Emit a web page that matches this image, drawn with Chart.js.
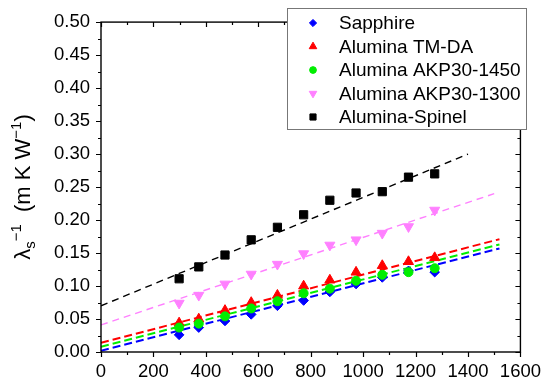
<!DOCTYPE html>
<html>
<head>
<meta charset="utf-8">
<script src="https://cdn.jsdelivr.net/npm/chart.js@4/dist/chart.umd.min.js"></script>
<style>
  html, body { margin: 0; padding: 0; background: #fff; }
</style>
</head>
<body>
<canvas id="chart" width="550" height="381"></canvas>
<script>
// Temperatura (K) y resistividad termica
const temps = [298, 373, 473, 573, 673, 773, 873, 973, 1073, 1173, 1273];
const sapphire = [0.026, 0.037, 0.047, 0.057, 0.070, 0.078, 0.091, 0.103, 0.113, 0.123, 0.121];
const tmda     = [0.044, 0.050, 0.063, 0.075, 0.086, 0.100, 0.109, 0.121, 0.131, 0.137, 0.143];
const akp1450  = [0.037, 0.043, 0.054, 0.066, 0.077, 0.089, 0.096, 0.108, 0.117, 0.121, 0.127];
const akp1300  = [0.074, 0.086, 0.103, 0.118, 0.133, 0.149, 0.162, 0.170, 0.180, 0.190, 0.215];
const spinel   = [0.111, 0.129, 0.147, 0.170, 0.189, 0.208, 0.230, 0.241, 0.243, 0.265, 0.270];

// Rectas de ajuste: extremos en x y en y
const fitX         = [0, 1520];
const fitSapphire  = [0.002, 0.157];
const fitTmda      = [0.014, 0.171];
const fitAkp1450   = [0.008, 0.163];
const fitAkp1300X  = [0, 1500];
const fitAkp1300   = [0.041, 0.240];
const fitSpinelX   = [0, 1400];
const fitSpinel    = [0.070, 0.300];

const xTicks = [0, 200, 400, 600, 800, 1000, 1200, 1400, 1600];
const yTicks = [0, 0.05, 0.10, 0.15, 0.20, 0.25, 0.30, 0.35, 0.40, 0.45, 0.50];

const FONT = "'Liberation Sans', Arial, sans-serif";

function pts(xs, ys) {
  return xs.map((x, i) => ({ x: x, y: ys[i] }));
}

function serie(label, ys, color, style, radius, rotation, order) {
  return {
    label: label,
    legend: true,
    data: pts(temps, ys),
    showLine: false,
    pointStyle: style,
    pointRadius: radius,
    pointRotation: rotation,
    pointBackgroundColor: color,
    pointBorderColor: color,
    pointBorderWidth: 1,
    backgroundColor: color,
    borderColor: color,
    order: order
  };
}

function ajuste(xs, ys, color, width, dash) {
  return {
    data: pts(xs, ys),
    showLine: true,
    borderColor: color,
    borderWidth: width,
    borderDash: dash,
    pointRadius: 0,
    fill: false,
    order: 10
  };
}

// marco con ticks menores y espejo arriba/derecha
const frameTicks = {
  id: 'frameTicks',
  afterDatasetsDraw(chart) {
    const ctx = chart.ctx;
    const a = chart.chartArea;
    const sx = chart.scales.x, sy = chart.scales.y;
    ctx.save();
    ctx.strokeStyle = '#000';
    ctx.lineWidth = 1.4;
    ctx.strokeRect(a.left, a.top, a.right - a.left, a.bottom - a.top);
    ctx.lineWidth = 1.2;
    const minors = v => v.slice(0, -1).map((t, i) => (t + v[i + 1]) / 2);
    const xs = [...xTicks.map(v => [v, 5]), ...minors(xTicks).map(v => [v, 3])];
    const ys = [...yTicks.map(v => [v, 5]), ...minors(yTicks).map(v => [v, 3])];
    ctx.beginPath();
    xs.forEach(([v, len]) => {
      const p = Math.round(sx.getPixelForValue(v)) + 0.5;
      ctx.moveTo(p, a.bottom); ctx.lineTo(p, a.bottom + len);
      ctx.moveTo(p, a.top); ctx.lineTo(p, a.top + len);
    });
    ys.forEach(([v, len]) => {
      const p = Math.round(sy.getPixelForValue(v)) + 0.5;
      ctx.moveTo(a.left - len, p); ctx.lineTo(a.left, p);
      ctx.moveTo(a.right - len, p); ctx.lineTo(a.right, p);
    });
    ctx.stroke();
    ctx.restore();
  }
};

// leyenda dentro del area del grafico
const legendBox = {
  id: 'legendBox',
  afterDraw(chart) {
    const ctx = chart.ctx;
    const box = { x: 287.5, y: 8.5, w: 239, h: 121 };
    ctx.save();
    ctx.fillStyle = '#fff';
    ctx.fillRect(box.x, box.y, box.w, box.h);
    ctx.strokeStyle = '#777';
    ctx.lineWidth = 1;
    ctx.strokeRect(box.x, box.y, box.w, box.h);
    ctx.font = '19px ' + FONT;
    ctx.textBaseline = 'middle';
    let row = 0;
    chart.data.datasets.forEach(ds => {
      if (!ds.legend) return;
      const cy = 23 + row * 23.5;
      ctx.fillStyle = ds.pointBackgroundColor;
      ctx.strokeStyle = ds.pointBorderColor;
      Chart.helpers.drawPoint(ctx, {
        pointStyle: ds.pointStyle,
        radius: ds.pointRadius * 0.75,
        rotation: ds.pointRotation,
        borderWidth: 1
      }, 313, cy);
      ctx.fillStyle = '#000';
      ctx.fillText(ds.label, 339, cy + 1);
      row++;
    });
    ctx.restore();
  }
};

// titulo del eje y con subindice y superindices
const yTitle = {
  id: 'yTitle',
  afterDraw(chart) {
    const ctx = chart.ctx;
    const a = chart.chartArea;
    const parts = [
      { t: 'λ', size: 22, dy: 0 },
      { t: 's', size: 15, dy: 5 },
      { t: '−1', size: 15, dy: -9 },
      { t: '  (m K W', size: 22, dy: 0 },
      { t: '−1', size: 15, dy: -9 },
      { t: ')', size: 22, dy: 0 }
    ];
    ctx.save();
    let total = 0;
    parts.forEach(p => {
      ctx.font = p.size + 'px ' + FONT;
      p.w = ctx.measureText(p.t).width;
      total += p.w;
    });
    ctx.translate(30, (a.top + a.bottom) / 2);
    ctx.rotate(-Math.PI / 2);
    ctx.fillStyle = '#000';
    ctx.textBaseline = 'alphabetic';
    let x = -total / 2;
    parts.forEach(p => {
      ctx.font = p.size + 'px ' + FONT;
      ctx.fillText(p.t, x, p.dy);
      x += p.w;
    });
    ctx.restore();
  }
};

new Chart(document.getElementById('chart'), {
  type: 'scatter',
  data: {
    datasets: [
      serie('Sapphire', sapphire, '#0000ff', 'rectRot', 4.8, 0, 5),
      serie('Alumina TM-DA', tmda, '#ff0000', 'triangle', 5.8, 0, 4),
      serie('Alumina AKP30-1450', akp1450, '#00ee00', 'circle', 4.5, 0, 3),
      serie('Alumina AKP30-1300', akp1300, '#ff80ff', 'triangle', 5.8, 180, 2),
      serie('Alumina-Spinel', spinel, '#000000', 'rect', 5.8, 0, 1),
      ajuste(fitX, fitSapphire, '#0000ff', 2, [8, 4]),
      ajuste(fitX, fitTmda, '#ff0000', 2, [8, 4]),
      ajuste(fitX, fitAkp1450, '#00ee00', 2, [8, 4]),
      ajuste(fitAkp1300X, fitAkp1300, '#ff80ff', 1.4, [7, 5]),
      ajuste(fitSpinelX, fitSpinel, '#000000', 1.4, [7, 5])
    ]
  },
  options: {
    responsive: false,
    animation: false,
    layout: { padding: { left: 0, top: 10, right: 23, bottom: 0 } },
    plugins: {
      legend: { display: false },
      tooltip: { enabled: false }
    },
    scales: {
      x: {
        type: 'linear',
        min: 0,
        max: 1600,
        afterFit: s => { s.height = 29; },
        afterBuildTicks: s => { s.ticks = xTicks.map(v => ({ value: v })); },
        grid: { display: false, drawTicks: false },
        border: { display: false },
        ticks: {
          padding: 9,
          color: '#000',
          font: { family: FONT, size: 18.5 },
          maxRotation: 0,
          callback: v => String(v)
        }
      },
      y: {
        type: 'linear',
        min: 0,
        max: 0.5,
        afterFit: s => { s.width = 101; },
        afterBuildTicks: s => { s.ticks = yTicks.map(v => ({ value: v })); },
        grid: { display: false, drawTicks: false },
        border: { display: false },
        ticks: {
          padding: 11,
          color: '#000',
          font: { family: FONT, size: 18.5 },
          callback: v => Number(v).toFixed(2)
        }
      }
    }
  },
  plugins: [frameTicks, legendBox, yTitle]
});
</script>
</body>
</html>
